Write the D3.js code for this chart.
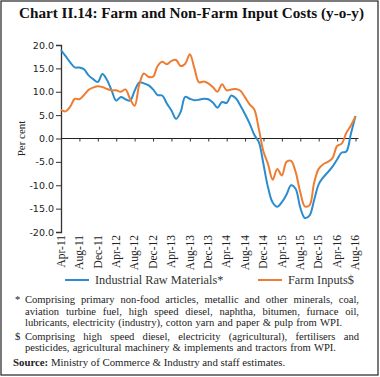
<!DOCTYPE html>
<html>
<head>
<meta charset="utf-8">
<script src="https://cdn.jsdelivr.net/npm/d3@7"></script>
<style>
  body { margin: 0; background: #fff; }
  svg { display: block; }
</style>
</head>
<body>
<div id="chart"></div>
<script>
// monthly, Apr-11 .. Aug-16
const months = d3.range(65).map(i => {
  const d = new Date(2011, 3 + i, 1)
  return d3.timeFormat('%b-%y')(d)
})
const tickIdx = d3.range(0, 65, 4)

// Industrial Raw Materials* (y-o-y, per cent)
const irm = [18.9, 17.6, 16.3, 15.2, 15.2, 14.8, 13.5, 12.7, 12.1, 13.8,
  12.5, 10.3, 8.1, 8.9, 8.4, 8.1, 10.2, 12.0, 11.8, 11.4,
  10.5, 9.3, 9.2, 7.5, 6.0, 4.2, 5.7, 8.9, 8.5, 8.2,
  8.3, 8.5, 8.4, 7.7, 6.6, 7.8, 7.6, 9.2, 8.6, 7.0,
  5.2, 3.2, 0.8, -0.8, -5.5, -10.5, -13.7, -14.6, -13.6, -12.0,
  -10.0, -10.8, -14.8, -17.0, -16.5, -13.2, -9.8, -8.3, -7.2, -6.0,
  -4.5, -3.0, -2.8, 1.0, 4.8]

// Farm Inputs$
const farm = [6.1, 5.8, 6.8, 8.5, 8.4, 9.3, 10.4, 10.9, 11.2, 11.0,
  10.6, 10.3, 10.3, 10.0, 10.5, 8.5, 7.0, 11.5, 13.9, 13.2,
  13.2, 15.5, 16.4, 15.9, 16.6, 16.8, 15.5, 16.0, 18.0, 15.0,
  12.0, 12.2, 11.8, 11.0, 10.0, 11.6, 10.3, 10.5, 10.6, 10.2,
  8.8, 7.3, 6.2, 2.0, -2.8, -5.5, -8.8, -6.5, -7.9, -5.0,
  -4.8, -7.2, -11.5, -14.5, -14.3, -9.5, -6.5, -5.5, -5.0, -4.2,
  -1.6, -1.1, 1.2, 2.8, 4.7]

const yTicks = [20, 15, 10, 5, 0, -5, -10, -15, -20]

const seriesNames = ['Industrial Raw Materials*', 'Farm Inputs$']
const colors = ['#2b8ccf', '#ee7d31']

const notes = [
  { mark: '*', lines: [
    'Comprising primary non-food articles, metallic and other minerals, coal,',
    'aviation turbine fuel, high speed diesel, naphtha, bitumen, furnace oil,',
    'lubricants, electricity (industry), cotton yarn and paper & pulp from WPI.'] },
  { mark: '$', lines: [
    'Comprising high speed diesel, electricity (agricultural), fertilisers and',
    'pesticides, agricultural machinery & implements and tractors from WPI.'] }
]
const source = 'Ministry of Commerce & Industry and staff estimates.'

const width = 380
const height = 377
const serif = "'Liberation Serif', 'DejaVu Serif', serif"
const sans = "'DejaVu Sans', sans-serif"
const noteSize = 10.6

const svg = d3.select('#chart').append('svg')
  .attr('width', width)
  .attr('height', height)

svg.append('rect')
  .attr('x', 1).attr('y', 1)
  .attr('width', 377).attr('height', 374)
  .attr('fill', 'none')
  .attr('stroke', '#222')
  .attr('stroke-width', 1.2)

svg.append('text')
  .attr('x', 19).attr('y', 18)
  .attr('font-family', serif)
  .attr('font-weight', 'bold')
  .attr('font-size', 14)
  .attr('textLength', 345)
  .attr('lengthAdjust', 'spacingAndGlyphs')
  .attr('fill', '#111')
  .text('Chart II.14: Farm and Non-Farm Input Costs (y-o-y)')

//scales
const x = d3.scaleLinear().domain([0, 64]).range([61, 355.5])
const y = d3.scaleLinear().domain([-20, 20]).range([232, 45])

// y axis
const yAxis = svg.append('g')
  .attr('transform', `translate(${x(0)},0)`)
  .call(d3.axisLeft(y).tickValues(yTicks).tickSize(5).tickPadding(2).tickFormat(d3.format('.1f')))
yAxis.select('.domain').attr('stroke', '#333').attr('stroke-width', 1.3)
yAxis.selectAll('.tick line').attr('stroke', '#333')
yAxis.selectAll('.tick text')
  .attr('font-family', sans)
  .attr('font-size', 9.5)
  .attr('fill', '#222')
  .text(d => d3.format('.1f')(d).replace('−', '-'))

// zero line with ticks
const xAxis = svg.append('g')
  .attr('transform', `translate(0,${y(0)})`)
  .call(d3.axisBottom(x).tickValues(tickIdx).tickSize(3).tickSizeOuter(0).tickFormat(''))
xAxis.select('.domain').attr('stroke', '#222').attr('stroke-width', 1.2)
  .attr('d', `M${x(0)},0H${x(64) + 3}`)
xAxis.selectAll('.tick line').attr('stroke', '#333')

// x labels at bottom of plot
svg.append('g').selectAll('text')
  .data(tickIdx)
  .enter().append('text')
  .attr('transform', d => `translate(${x(d) + 3.8},${y(-20) + 3}) rotate(-90)`)
  .attr('text-anchor', 'end')
  .attr('font-family', serif)
  .attr('font-size', 11.5)
  .attr('fill', '#222')
  .text(d => months[d])

svg.append('text')
  .attr('transform', `translate(25,${y(0)}) rotate(-90)`)
  .attr('text-anchor', 'middle')
  .attr('font-family', serif)
  .attr('font-size', 11)
  .attr('fill', '#222')
  .text('Per cent')

const line = d3.line()
  .x((d, i) => x(i))
  .y(d => y(d))
  .curve(d3.curveCatmullRom.alpha(0.5))

;[irm, farm].forEach((s, k) => {
  svg.append('path')
    .datum(s)
    .attr('d', line)
    .attr('fill', 'none')
    .attr('stroke', colors[k])
    .attr('stroke-width', 2)
    .attr('stroke-linejoin', 'round')
})

// legend
const legendItems = [{ x: 65, tx: 95 }, { x: 258, tx: 288 }]
legendItems.forEach((l, k) => {
  svg.append('line')
    .attr('x1', l.x).attr('x2', l.x + 24)
    .attr('y1', 280).attr('y2', 280)
    .attr('stroke', colors[k]).attr('stroke-width', 2)
  svg.append('text')
    .attr('x', l.tx).attr('y', 284)
    .attr('font-family', serif)
    .attr('font-size', 12.3)
    .attr('fill', '#333')
    .text(seriesNames[k])
})

// justified footnote lines
function justify(str, x0, x1, yy, stretch) {
  const words = str.split(' ')
  const nodes = words.map(w => svg.append('text')
    .attr('y', yy)
    .attr('font-family', serif)
    .attr('font-size', noteSize)
    .attr('fill', '#222')
    .text(w))
  const widths = nodes.map(n => n.node().getComputedTextLength())
  const total = d3.sum(widths)
  const space = stretch ? (x1 - x0 - total) / (words.length - 1) : 3.2
  let cx = x0
  nodes.forEach((n, i) => {
    n.attr('x', cx)
    cx += widths[i] + space
  })
}

const noteY = [[303, 314.5, 325.5], [339.5, 350.5]]
notes.forEach((n, k) => {
  svg.append('text')
    .attr('x', 15).attr('y', noteY[k][0])
    .attr('font-family', serif).attr('font-size', noteSize).attr('fill', '#222')
    .text(n.mark)
  n.lines.forEach((ln, j) => {
    justify(ln, 25, 359, noteY[k][j], j < n.lines.length - 1)
  })
})

const src = svg.append('text')
  .attr('x', 13).attr('y', 366)
  .attr('font-family', serif).attr('font-size', 10.8).attr('fill', '#222')
src.append('tspan').attr('font-weight', 'bold').text('Source:')
src.append('tspan').text(' ' + source)
</script>
</body>
</html>
